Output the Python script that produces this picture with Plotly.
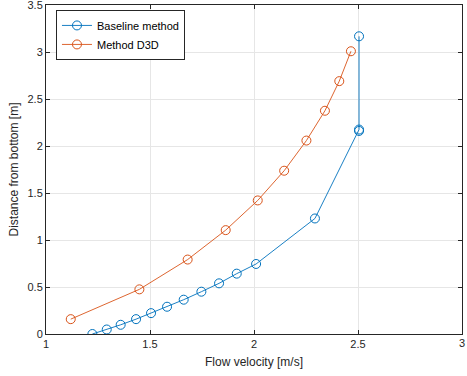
import plotly.graph_objects as go

baseline_x = [1.223, 1.292, 1.359, 1.433, 1.505, 1.582, 1.662, 1.747, 1.832, 1.917, 2.010, 2.293, 2.505, 2.505, 2.505]
baseline_y = [0.0, 0.048, 0.098, 0.158, 0.222, 0.29, 0.365, 0.45, 0.539, 0.642, 0.745, 1.229, 2.16, 2.175, 3.167]

d3d_x = [1.119, 1.449, 1.681, 1.864, 2.018, 2.145, 2.252, 2.341, 2.41, 2.466]
d3d_y = [0.158, 0.475, 0.792, 1.105, 1.421, 1.737, 2.058, 2.375, 2.69, 3.008]

x_ticks = [1, 1.5, 2, 2.5, 3]
x_labels = ["1", "1.5", "2", "2.5", "3"]
y_ticks = [0, 0.5, 1, 1.5, 2, 2.5, 3, 3.5]
y_labels = ["0", "0.5", "1", "1.5", "2", "2.5", "3", "3.5"]
x_range = [1, 3]

blue = "#0072BD"
orange = "#D95319"
font_family = "Liberation Sans, Arial"
text_color = "#262626"

fig = go.Figure()
fig.add_trace(go.Scatter(x=baseline_x, y=baseline_y, mode="lines+markers", name="Baseline method",
                         line=dict(color=blue, width=0.9),
                         marker=dict(symbol="circle-open", size=9, color=blue, line=dict(width=1))))
fig.add_trace(go.Scatter(x=d3d_x, y=d3d_y, mode="lines+markers", name="Method D3D",
                         line=dict(color=orange, width=0.9),
                         marker=dict(symbol="circle-open", size=9, color=orange, line=dict(width=1))))

axis_common = dict(showgrid=True, gridcolor="#E6E6E6", gridwidth=1, showline=True, linecolor=text_color,
                   linewidth=1, mirror="ticks", ticks="inside", ticklen=4, tickcolor=text_color,
                   zeroline=False, automargin=False, ticklabeloverflow="allow",
                   tickfont=dict(family=font_family, size=11, color=text_color))

# the right-edge x tick label is drawn as a paper-referenced annotation so it is never hidden
fig.update_xaxes(range=x_range, autorange=False, tickvals=x_ticks, ticktext=x_labels[:-1] + [""],
                 title=dict(text="Flow velocity [m/s]", font=dict(family=font_family, size=12, color=text_color), standoff=8),
                 **axis_common)
fig.update_yaxes(range=[0, 3.5], autorange=False, tickvals=y_ticks, ticktext=y_labels,
                 title=dict(text="Distance from bottom [m]", font=dict(family=font_family, size=12, color=text_color), standoff=6),
                 **axis_common)

fig.add_annotation(x=(x_ticks[-1] - x_range[0]) / (x_range[1] - x_range[0]), y=0,
                   xref="paper", yref="paper", text=x_labels[-1], showarrow=False,
                   xanchor="center", yanchor="top", yshift=-1,
                   font=dict(family=font_family, size=11, color=text_color))

fig.update_layout(width=467, height=376, margin=dict(l=46, r=5, t=5, b=42),
                  plot_bgcolor="white", paper_bgcolor="white",
                  font=dict(family=font_family, color=text_color),
                  legend=dict(x=0.024, y=0.985, xanchor="left", yanchor="top",
                              bgcolor="white", bordercolor=text_color, borderwidth=1,
                              font=dict(size=11, color="black"), itemwidth=30,
                              tracegroupgap=0),
                  showlegend=True)

fig.write_html("out.html", config={"displayModeBar": False},
               post_script="document.body.style.margin='0';document.body.style.padding='0';document.body.style.overflow='hidden';document.documentElement.style.overflow='hidden';")
